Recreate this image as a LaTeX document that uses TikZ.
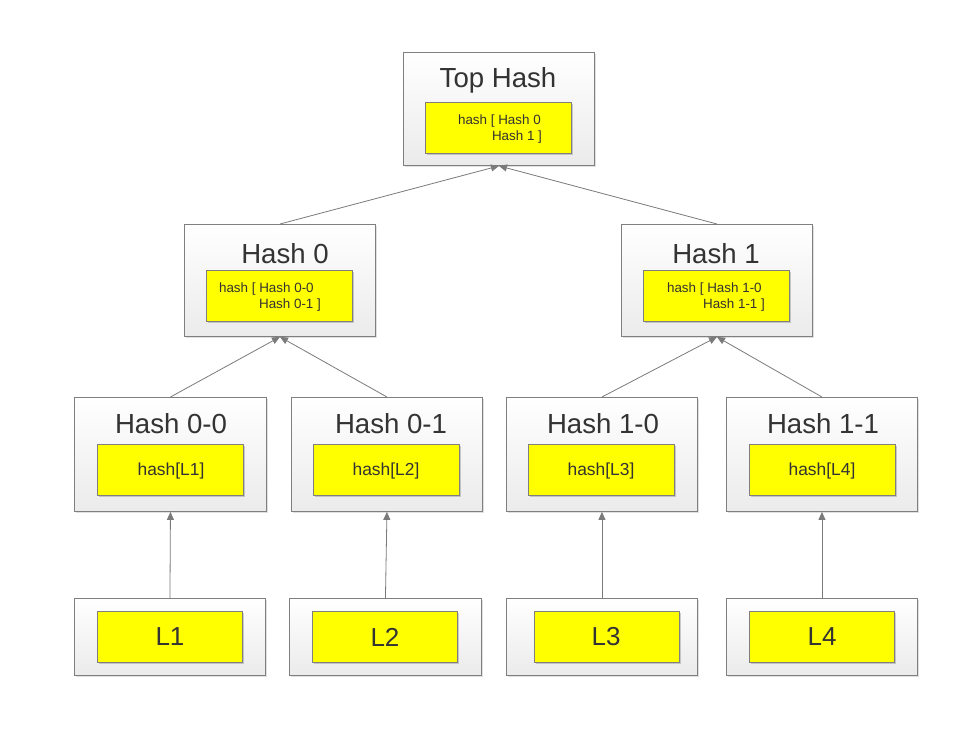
\documentclass[tikz,border=0pt]{standalone}
\usepackage{fontspec}
\setmainfont{Liberation Sans}
\usetikzlibrary{arrows.meta,shadows}
\definecolor{boxline}{HTML}{7F7F7F}
\definecolor{txt}{HTML}{333333}
\definecolor{arrline}{HTML}{7A7A7A}
\definecolor{boxbot}{HTML}{EBEBEB}
\definecolor{yel}{HTML}{FFFF00}
\tikzset{
  outerbox/.style={draw=boxline, line width=0.9pt, top color=white, bottom color=boxbot,
    drop shadow={shadow xshift=2pt, shadow yshift=-2pt, fill=black, opacity=0.12},
    inner sep=0pt, anchor=north west},
  innerbox/.style={draw=boxline, line width=0.8pt, fill=yel,
    drop shadow={shadow xshift=2pt, shadow yshift=-2pt, fill=black, opacity=0.18},
    inner sep=0pt, text=txt, anchor=north west},
  titletext/.style={text=txt, font=\fontsize{27.6}{32}\selectfont, inner sep=0pt, anchor=base},
  smalltext/.style={text=txt, font=\fontsize{13.4}{16}\selectfont, align=left, inner sep=0pt},
  midtext/.style={text=txt, font=\fontsize{17.4}{20}\selectfont, inner sep=0pt},
  leaftext/.style={text=txt, font=\fontsize{26}{30}\selectfont, inner sep=0pt},
  arr/.style={draw=arrline, line width=0.8pt, -{Triangle[length=8pt,width=7pt,fill=arrline]}}
}
\begin{document}
\begin{tikzpicture}[x=1pt,y=-1pt]
\useasboundingbox (0,0) rectangle (967,745);
% outer boxes
\node[outerbox, minimum width=191pt, minimum height=113pt] (top) at (403,52) {};
\node[outerbox, minimum width=191pt, minimum height=112pt] (h0) at (184,224) {};
\node[outerbox, minimum width=191pt, minimum height=112pt] (h1) at (621,224) {};
\node[outerbox, minimum width=192pt, minimum height=114pt] (h00) at (74,397) {};
\node[outerbox, minimum width=191pt, minimum height=114pt] (h01) at (291,397) {};
\node[outerbox, minimum width=191pt, minimum height=114pt] (h10) at (506,397) {};
\node[outerbox, minimum width=191pt, minimum height=114pt] (h11) at (726,397) {};
\node[outerbox, minimum width=191pt, minimum height=77pt] (l1) at (74,598) {};
\node[outerbox, minimum width=192pt, minimum height=77pt] (l2) at (289,598) {};
\node[outerbox, minimum width=191pt, minimum height=77pt] (l3) at (506,598) {};
\node[outerbox, minimum width=191pt, minimum height=77pt] (l4) at (726,598) {};
% titles
\node[titletext] (topt) at (498,87) {Top Hash};
\node[titletext] (h0t) at (285,263) {Hash 0};
\node[titletext] (h1t) at (716,263) {Hash 1};
\node[titletext] (h00t) at (171,433) {Hash 0-0};
\node[titletext] (h01t) at (391,433) {Hash 0-1};
\node[titletext] (h10t) at (603,433) {Hash 1-0};
\node[titletext] (h11t) at (823,433) {Hash 1-1};
% inner boxes
\node[innerbox, minimum width=146pt, minimum height=51pt] (topi) at (425,102) {};
\node[innerbox, minimum width=146pt, minimum height=51pt] (h0i) at (206,270) {};
\node[innerbox, minimum width=146pt, minimum height=51pt] (h1i) at (643,270) {};
\node[innerbox, minimum width=146pt, minimum height=51pt] (h00i) at (97,444) {};
\node[innerbox, minimum width=146pt, minimum height=51pt] (h01i) at (313,444) {};
\node[innerbox, minimum width=146pt, minimum height=51pt] (h10i) at (528,444) {};
\node[innerbox, minimum width=146pt, minimum height=51pt] (h11i) at (749,444) {};
\node[innerbox, minimum width=145pt, minimum height=51pt] (l1i) at (97,611) {};
\node[innerbox, minimum width=145pt, minimum height=51pt] (l2i) at (312,611) {};
\node[innerbox, minimum width=145pt, minimum height=51pt] (l3i) at (534,611) {};
\node[innerbox, minimum width=145pt, minimum height=51pt] (l4i) at (749,611) {};
% inner texts
\node[smalltext] (topx) at (500,129) {hash [ Hash 0\\\hspace*{34pt}Hash 1 ]};
\node[smalltext] (h0x) at (270,297) {hash [ Hash 0-0\\\hspace*{40pt}Hash 0-1 ]};
\node[smalltext] (h1x) at (716,297) {hash [ Hash 1-0\\\hspace*{36pt}Hash 1-1 ]};
\node[midtext] (h00x) at (171,471) {hash[L1]};
\node[midtext] (h01x) at (386,471) {hash[L2]};
\node[midtext] (h10x) at (601,471) {hash[L3]};
\node[midtext] (h11x) at (822,471) {hash[L4]};
\node[leaftext] (l1x) at (170,637) {L1};
\node[leaftext] (l2x) at (385,637) {L2};
\node[leaftext] (l3x) at (606,637) {L3};
\node[leaftext] (l4x) at (822,637) {L4};
% connectors
\draw[arr] (h0.north) -- (top.south);
\draw[arr] (h1.north) -- (top.south);
\draw[arr] (h00.north) -- (h0.south);
\draw[arr] (h01.north) -- (h0.south);
\draw[arr] (h10.north) -- (h1.south);
\draw[arr] (h11.north) -- (h1.south);
\draw[arr] (l1.north) -- (h00.south);
\draw[arr] (l2.north) -- (h01.south);
\draw[arr] (l3.north) -- (h10.south);
\draw[arr] (l4.north) -- (h11.south);
\end{tikzpicture}
\end{document}
